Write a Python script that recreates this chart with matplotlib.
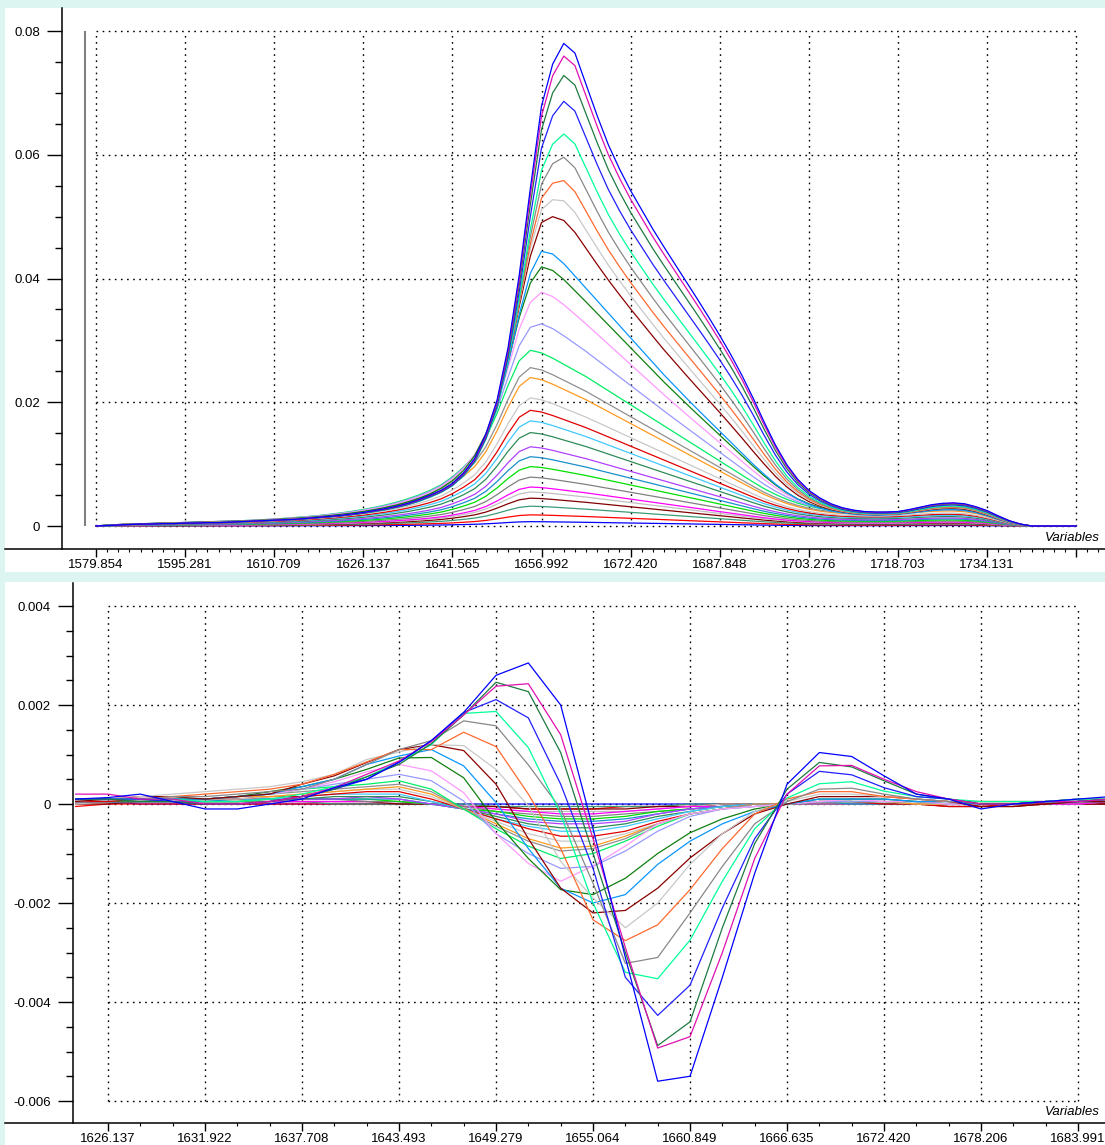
import numpy as np
import matplotlib.pyplot as plt
from matplotlib.patches import Rectangle
from matplotlib.ticker import FixedLocator, NullFormatter

plt.rcParams['font.family'] = ['Liberation Sans', 'DejaVu Sans']

# wavenumber grid of the spectra (cm-1), one point every 1.9285
x_start = 1579.854
x_step = 1.92848

# top: spectra = c * band_c + a * band_a + b * band_b
band_c = [0.000, 0.005, 0.008, 0.010, 0.012, 0.014, 0.016, 0.018, 0.020, 0.022,
          0.024, 0.026, 0.028, 0.030, 0.033, 0.036, 0.040, 0.044, 0.049, 0.054,
          0.060, 0.067, 0.075, 0.084, 0.094, 0.106, 0.120, 0.136, 0.155, 0.177,
          0.203, 0.235, 0.280, 0.335, 0.400, 0.500, 0.640, 0.800, 0.940, 1.000,
          0.985, 0.955, 0.920, 0.885, 0.850, 0.810, 0.770, 0.730, 0.690, 0.650,
          0.610, 0.570, 0.530, 0.490, 0.450, 0.410, 0.370, 0.330, 0.290, 0.250,
          0.212, 0.180, 0.152, 0.130, 0.113, 0.100, 0.091, 0.085, 0.081, 0.079,
          0.078, 0.079, 0.082, 0.087, 0.093, 0.098, 0.101, 0.101, 0.096, 0.084,
          0.065, 0.043, 0.023, 0.008, 0.000, 0.000, 0.000, 0.000, 0.000]
band_a = [0.000, 0.003, 0.005, 0.007, 0.008, 0.009, 0.010, 0.011, 0.012, 0.013,
          0.014, 0.015, 0.016, 0.017, 0.018, 0.020, 0.022, 0.024, 0.026, 0.028,
          0.031, 0.034, 0.038, 0.042, 0.047, 0.053, 0.060, 0.068, 0.078, 0.090,
          0.105, 0.125, 0.150, 0.185, 0.240, 0.320, 0.430, 0.590, 0.770, 0.920,
          1.000, 0.990, 0.955, 0.910, 0.865, 0.820, 0.775, 0.730, 0.685, 0.640,
          0.595, 0.550, 0.508, 0.466, 0.425, 0.385, 0.345, 0.305, 0.265, 0.225,
          0.188, 0.153, 0.123, 0.098, 0.079, 0.065, 0.055, 0.048, 0.043, 0.040,
          0.039, 0.040, 0.042, 0.046, 0.051, 0.056, 0.059, 0.060, 0.057, 0.049,
          0.037, 0.024, 0.012, 0.005, 0.000, 0.000, 0.000, 0.000, 0.000]
band_b = [0.000, 0.001, 0.002, 0.003, 0.004, 0.004, 0.005, 0.005, 0.006, 0.006,
          0.007, 0.007, 0.008, 0.009, 0.010, 0.011, 0.012, 0.013, 0.014, 0.016,
          0.018, 0.020, 0.022, 0.025, 0.028, 0.032, 0.036, 0.041, 0.047, 0.055,
          0.064, 0.074, 0.088, 0.110, 0.140, 0.190, 0.260, 0.370, 0.520, 0.700,
          0.870, 0.957, 1.000, 0.980, 0.915, 0.850, 0.790, 0.740, 0.695, 0.655,
          0.615, 0.578, 0.542, 0.506, 0.470, 0.433, 0.395, 0.355, 0.312, 0.265,
          0.215, 0.168, 0.128, 0.097, 0.074, 0.058, 0.046, 0.038, 0.033, 0.030,
          0.029, 0.029, 0.030, 0.034, 0.039, 0.044, 0.047, 0.048, 0.046, 0.040,
          0.032, 0.021, 0.011, 0.004, 0.000, 0.000, 0.000, 0.000, 0.000]
coef_c = [0.0007, 0.0018, 0.0032, 0.0045, 0.0055, 0.0063, 0.0079, 0.0096, 0.0112, 0.0128,
          0.0151, 0.0170, 0.0187, 0.0207, 0.0240, 0.0256, 0.0284, 0.022, 0.015, 0.008,
          0, 0, 0, 0, 0, 0, 0, 0, 0, 0]
coef_a = [0, 0, 0, 0, 0, 0, 0, 0, 0, 0,
          0, 0, 0, 0, 0, 0, 0, 0.011, 0.023, 0.034,
          0.0444, 0.036, 0.032, 0.026, 0.020, 0.014, 0.008, 0.004, 0.001, 0.0]
coef_b = [0, 0, 0, 0, 0, 0, 0, 0, 0, 0,
          0, 0, 0, 0, 0, 0, 0, 0, 0, 0,
          0, 0.015, 0.022, 0.031, 0.0405, 0.050, 0.061, 0.069, 0.075, 0.078]

# bottom: processed spectra, 1624.21 .. 1685.92, values x 1e-4
bot_start = 1624.209
diff_e4 = [
    [0.5, 0.5, 0, 0, 0, 0, 0, 0, 0, 0, 0, 0, 0, 0, 0, 0, 0, 0, 0, 0, 0, 0, 0, 0, 0, 0, 0, 0, 0, 0, 0, 0, 0],
    [-0.5, 0, 0, 0, 0, 0, 0, 0, 0, 0, 0, 0, -0.5, -0.5, -1, -1, -1, -0.5, -0.5, -0.5, 0, 0, 0, 0, 0, 0, 0, 0, 0, 0, 0, 0, 0],
    [0.5, 0.5, 0.5, 0.5, 0.5, 0.5, 0.5, 0.5, 0, 0, 0, 0, 0, -0.5, -0.5, -0.5, -0.5, -0.5, -0.5, 0, 0, 0, 0, 0, 0, 0, 0, 0, 0, 0, 0, 0, 0.5],
    [0, 0, 0.5, 0.5, 0.5, 0.5, 0.5, 0.5, 0.5, 0.5, 0, 0, -0.5, -0.5, -1, -1, -1, -1, -0.5, -0.5, 0, 0, 0, 0, 0, 0, 0, -0.5, -0.5, -0.5, 0, 0, 0],
    [0, 0.5, 0.5, 0.5, 0.5, 0.5, 0.5, 0.5, 0.5, 0.5, 0.5, 0, -0.5, -1, -1.5, -1.5, -1.5, -1.5, -1, -0.5, 0, 0, 0, 0, 0, 0, 0, 0, 0, 0, 0, 0, 0.5],
    [0.5, 0.5, 0.5, 0.5, 0.5, 0.5, 0.5, 0.5, 0.5, 0.5, 0.5, 0, -0.5, -1, -1.5, -2, -2, -1.5, -1, -0.5, -0.5, 0, 0, 0, 0, 0, 0, 0, 0, 0, 0, 0, 0.5],
    [0.5, 0.5, 0.5, 0.5, 0.5, 0.5, 0.5, 1, 1, 0.5, 0.5, 0, -0.5, -1.5, -2, -2.5, -2.5, -2, -1.5, -1, -0.5, 0, 0, 0, 0, 0, 0, 0, 0, 0, 0, 0.5, 0.5],
    [0.5, 0.5, 0.5, 0.5, 0.5, 0.5, 1, 1, 1, 1, 0.5, 0, -1, -1.5, -2.5, -3, -3, -2.5, -1.5, -1, -0.5, 0, 0, 0.5, 0.5, 0, 0, 0, 0, 0, 0, 0.5, 0.5],
    [0.5, 0.5, 0.5, 0.5, 0.5, 1, 1, 1, 1, 1, 1, 0, -1, -2, -3, -3.5, -3.5, -3, -2, -1, -0.5, 0, 0, 0.5, 0, 0, 0, 0, 0, 0, 0, 0.5, 0.5],
    [0.5, 0.5, 0.5, 0.5, 1, 1, 1, 1, 1, 1.5, 1, 0, -1, -2, -3.5, -4, -4, -3.5, -2, -1, -0.5, 0, 0, 0.5, 0.5, 0, 0, 0, 0, 0, 0, 0.5, 0.5],
    [0.5, 0.5, 0.5, 1, 1, 1, 1, 1, 1.5, 1.5, 1.5, 0.5, -1, -2.5, -4, -4.8, -4.8, -4, -2.5, -1.5, -0.5, 0, 0, 0.5, 0.5, 0, 0, 0, 0, 0, 0.5, 0.5, 0.5],
    [1, 1, 1, 1, 1, 1, 1, 1.5, 2, 2, 2, 0.5, -1, -3, -4.5, -5.5, -5.5, -4.5, -3, -1.5, -0.5, 0, 0, 0.5, 0.5, 0.5, 0, 0, 0, 0, 0.5, 0.5, 1],
    [0.5, 0.5, 1, 1, 1, 1, 1.5, 1.5, 2, 2.5, 2.5, 1, -1, -3, -5, -6.5, -6.5, -5.5, -3.5, -2, -1, 0, 0, 0.5, 0.5, 0, 0, -0.5, -0.5, 0, 0, 0.5, 0.5],
    [0.5, 1, 1, 1, 1, 1, 1.5, 2, 2.5, 3, 3, 1.5, -1, -3.5, -6, -7.5, -7.5, -6, -4, -2, -1, 0, 0, 0.5, 0.5, 0.5, 0, 0, 0, 0, 0.5, 0.5, 1],
    [1, 1, 1, 1, 1, 1.5, 1.5, 2, 2.5, 3, 3.5, 2, -1, -4, -7, -8.9, -8.5, -6.5, -4, -2, -1, 0, 0, 0.5, 0.5, 0.5, 0, 0, 0, 0, 0.5, 0.5, 1],
    [1, 1, 1, 1, 1, 1.5, 2, 2.5, 3, 3.5, 4, 2.5, -1, -4.5, -7.5, -9.5, -9, -7, -4, -2, -1, 0, 0, 0.5, 0.5, 0.5, 0.5, 0, 0, 0, 0.5, 0.5, 1],
    [1, 1, 1, 1, 1, 1.5, 2, 3, 3.5, 4, 4.7, 3, -1, -5, -8.5, -11, -10, -7.5, -4.5, -2, -1, -0.5, 0, 0.5, 0.5, 0.5, 0.5, 0, 0, 0, 0.5, 0.5, 1],
    [1, 1, 1, 1, 1, 1.5, 2, 3, 4, 5, 6, 4.7, 0.6, -6, -10, -13, -12.6, -9.5, -5.5, -2.5, -1, -0.5, 0, 0.5, 0.5, 0.5, 0.5, 0, 0, 0, 0.5, 0.5, 1],
    [1, 1, 1, 1, 1, 1.5, 2, 3, 4.5, 6.5, 8, 6.7, 2.3, -6, -12, -15.6, -12.5, -8.5, -4, -2, -1, -0.5, 0, 0.5, 1, 0.5, 0.5, 0, 0, 0, 0.5, 0.5, 1],
    [1, 1, 1, 1, 1, 1.5, 2.5, 3.5, 5, 7, 9.3, 9.4, 5.3, -3.5, -11, -17.3, -18.3, -15, -10, -5.8, -3, -1, 0, 1, 1, 1, 0.5, 0.5, 0, 0, 0.5, 0.5, 1],
    [1, 1, 1, 1, 1, 1.5, 2, 3.5, 5, 8, 9.7, 11, 7.7, 0.3, -9, -17, -20, -18.3, -12.2, -7.5, -4, -1.5, 0, 1, 1, 1, 0.5, 0.5, 0, 0, 0.5, 0.5, 1],
    [0.5, 1, 1.5, 1.5, 1, 1.5, 2, 4, 5.7, 8.4, 11, 12, 10.8, 4, -7, -17, -22, -21.5, -17, -10.9, -6, -2, 0, 1.5, 1.5, 1.5, 1, 0.5, -0.5, -0.5, 0, 0.5, 0.5],
    [1, 1, 1.5, 2, 2.5, 3, 3.5, 4.5, 6, 9, 10.5, 12, 11.8, 7, -0.4, -11.6, -19, -25, -20, -12.2, -6, -1.5, 0.5, 2, 2, 1.5, 1, 0.5, 0.5, 0.5, 0.5, 1, 1],
    [1, 1, 1, 1.5, 2, 2.5, 3, 4, 6, 8.5, 11, 11, 14.5, 11.6, 2, -9, -23.4, -27.6, -24.4, -17.3, -9, -2, 1, 2.5, 2.5, 1.5, 1, 0.5, 0.5, 0.5, 0.5, 1, 1],
    [1, 1, 1, 1.5, 1.5, 2, 2.5, 3, 5, 8, 11, 12.8, 16.8, 15.8, 7.9, -1, -16, -32.2, -31, -22, -12.6, -4, 0.5, 3, 3.2, 2, 1, 0.5, 0.5, 0.5, 0.5, 1, 1],
    [1, 1, 1, 1, 0.5, 0.5, 1, 2, 3.5, 5.5, 8.5, 12, 18.3, 18.7, 11.4, -2, -20, -34, -35.3, -27.5, -15.6, -5, 1.2, 4.1, 4.5, 2.6, 1.5, 1, 0.5, 0.5, 0.5, 1, 1],
    [1, 1, 1, 0.5, 0, 0, 0.5, 1.5, 3, 5, 8.5, 12.8, 18.5, 21.1, 17.4, 4, -13, -35, -42.7, -36.6, -21, -7, 2, 6.6, 5.9, 3.3, 1.5, 1, 0, 0, 0.5, 0.5, 1],
    [1, 1, 0.5, 0.5, 0, 0, 0.5, 1.5, 3, 5.5, 8, 12.2, 18, 24.6, 22.7, 10.4, -10, -30, -48.8, -44, -25, -8, 3, 8.4, 7.5, 4.7, 2, 1, 0, 0, 0.5, 0.5, 1],
    [2, 2, 1, 1, 0, 0, 0.5, 1.5, 3.3, 6, 8.7, 12.6, 18, 23.8, 24.3, 14, -7, -29, -49.3, -47, -30, -11, 2, 7.7, 7.8, 5, 2.5, 1, 0, 0, 0.5, 0.5, 1],
    [1, 1.3, 2, 0.5, -1, -1, 0, 1, 3.3, 5, 8.4, 12.8, 18.5, 26, 28.5, 20, -5, -31, -56, -55, -35, -14, 4, 10.4, 9.6, 5.7, 2, 1, -1, 0, 0.5, 1, 1.5],
]

colors = ['#0000ff', '#ff0000', '#3c9c78', '#800000', '#c0c0c0', '#ff00ff', '#808080', '#00e000',
          '#1890c8', '#b040ff', '#2e8b57', '#40c8ff', '#e00000', '#c8c8c8', '#ff9a20', '#909090',
          '#00ee66', '#9898ff', '#ff99ff', '#108010', '#0a96ff', '#8b0000', '#c8c8c8', '#ff6a30',
          '#888888', '#00ff99', '#2020ff', '#1e7a40', '#e010b0', '#0000ff']

top_ticks = ['1579.854', '1595.281', '1610.709', '1626.137', '1641.565', '1656.992',
             '1672.420', '1687.848', '1703.276', '1718.703', '1734.131', '']
bot_ticks = ['1626.137', '1631.922', '1637.708', '1643.493', '1649.279', '1655.064',
             '1660.849', '1666.635', '1672.420', '1678.206', '1683.991']
top_yticks = [0, 0.02, 0.04, 0.06, 0.08]
top_ylabels = ['0', '0.02', '0.04', '0.06', '0.08']
bot_yticks = [-0.006, -0.004, -0.002, 0, 0.002, 0.004]
bot_ylabels = ['-0.006', '-0.004', '-0.002', '0', '0.002', '0.004']

W, H = 1105, 1145
fig = plt.figure(figsize=(W / 100, H / 100), dpi=100, facecolor='#dcf5f0')
fig.patches.append(Rectangle((5 / W, 1 - 572 / H), 1100 / W, 564 / H, transform=fig.transFigure,
                             facecolor='white', edgecolor='none', zorder=-10))
fig.patches.append(Rectangle((5 / W, 0), 1100 / W, 563 / H, transform=fig.transFigure,
                             facecolor='white', edgecolor='none', zorder=-10))

ax1 = fig.add_axes([5 / W, 1 - 549 / H, 1100 / W, 541 / H])
ax2 = fig.add_axes([5 / W, 1 - 1123 / H, 1100 / W, 540 / H])

dots = (0, (1.2, 3.2))


def style(ax, spine_x, xt, xlabels, minor_x, yt, ylabels, minor_y):
    ax.set_facecolor('none')
    for s in ['top', 'right']:
        ax.spines[s].set_visible(False)
    ax.spines['left'].set_position(('data', spine_x))
    ax.spines['left'].set_linewidth(1.1)
    ax.spines['bottom'].set_linewidth(1.1)
    ax.set_xticks(xt)
    ax.set_xticklabels(xlabels)
    ax.xaxis.set_minor_locator(FixedLocator(minor_x))
    ax.set_yticks(yt)
    ax.set_yticklabels(ylabels)
    ax.yaxis.set_minor_locator(FixedLocator(minor_y))
    ax.yaxis.set_minor_formatter(NullFormatter())
    ax.tick_params(axis='y', which='major', length=10.8, width=1, pad=5, labelsize=9.5)
    ax.tick_params(axis='y', which='minor', length=5, width=1)
    ax.tick_params(axis='x', which='major', length=6, width=1, pad=1, labelsize=9.5)
    ax.tick_params(axis='x', which='minor', length=2.3, width=0.8)
    # dotted grid only over the data box
    ax.hlines(yt, xt[0], xt[-1], colors='black', linestyles=dots, lw=1.0, zorder=1)
    ax.vlines(xt, yt[0], yt[-1], colors='black', linestyles=dots, lw=1.0, zorder=1)
    ax.text(0.9955, 0.02, 'Variables', transform=ax.transAxes, ha='right', va='center',
            fontsize=9.5, style='italic')


# top panel
c = np.array(band_c)
a = np.array(band_a)
b = np.array(band_b)
x_top = x_start + x_step * np.arange(len(band_a))
for i in range(len(coef_a)):
    ax1.plot(x_top, coef_c[i] * c + coef_a[i] * a + coef_b[i] * b, color=colors[i], lw=0.9, zorder=2)
ax1.vlines(1577.95, 0, 0.08, colors='#808080', lw=1.5, zorder=2)

xt1 = x_start + 8 * x_step * np.arange(12)
minor1 = x_start + x_step * np.arange(0, 92)
ax1.set_xlim(1564.10, 1754.56)
ax1.set_ylim(-0.003717, 0.08372)
style(ax1, 1573.97, xt1, top_ticks, minor1, top_yticks, top_ylabels,
      np.arange(-0.0, 0.0801, 0.005))

# bottom panel
d = np.array(diff_e4) * 1e-4
x_bot = bot_start + x_step * np.arange(d.shape[1])
for i in range(len(d)):
    ax2.plot(x_bot, d[i], color=colors[i], lw=0.9, zorder=2)

xt2 = np.array([float(t) for t in bot_ticks])
minor2 = xt2[0] + x_step * np.arange(0, 31)
ax2.set_xlim(1619.994, 1685.60)
ax2.set_ylim(-0.006444, 0.004465)
style(ax2, 1624.05, xt2, bot_ticks, minor2, bot_yticks, bot_ylabels,
      np.arange(-0.0065, 0.00451, 0.0005))

fig.savefig('out.png', dpi=100, facecolor=fig.get_facecolor())
